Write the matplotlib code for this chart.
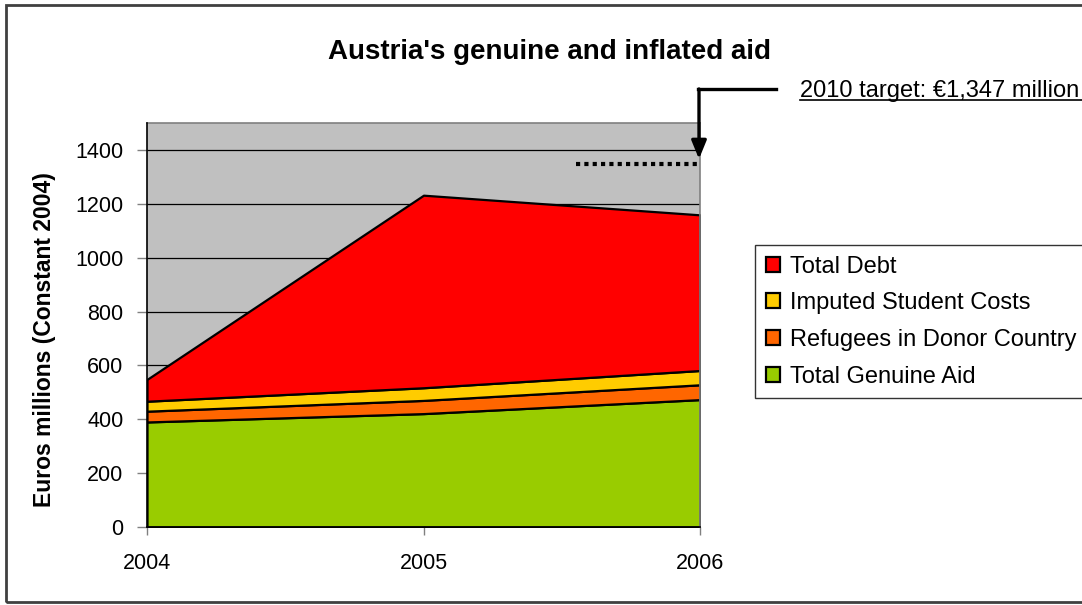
import numpy as np
import matplotlib.pyplot as plt
from matplotlib.lines import Line2D
from matplotlib.patches import Rectangle

plt.rcParams['font.family'] = ['Liberation Sans', 'DejaVu Sans']

# Data (Euros millions, constant 2004)
years = [2004, 2005, 2006]
genuine_aid = [390, 421, 473]
refugees = [40, 49, 55]
student_costs = [37, 47, 53]
total_debt = [81, 715, 578]
target_2010 = 1347

labels = ['Total Genuine Aid', 'Refugees in Donor Country',
          'Imputed Student Costs', 'Total Debt']
colors = ['#99CC00', '#FF6600', '#FFCC00', '#FF0000']

W, H = 1082, 605
fig = plt.figure(figsize=(W / 100, H / 100), dpi=100)
ax = fig.add_axes([147 / W, 1 - 527 / H, (700 - 147) / W, (527 - 123) / H])


def px(x, y):
    return x / W, 1 - y / H


# stacked areas
layers = [genuine_aid, refugees, student_costs, total_debt]
base = np.zeros(len(years))
handles = []
for vals, lab, col in zip(layers, labels, colors):
    top = base + np.array(vals)
    h = ax.fill_between(years, base, top, facecolor=col, edgecolor='black',
                        linewidth=1.6, label=lab, zorder=2)
    handles.append(h)
    base = top

ax.set_facecolor('#C0C0C0')
ax.set_xlim(2004, 2006)
ax.set_ylim(0, 1500)
ax.set_yticks(range(0, 1401, 200))
ax.set_xticks(years)
ax.set_xticklabels([str(y) for y in years])
ax.yaxis.grid(True, color='black', linewidth=0.9)
ax.set_axisbelow(True)

for s in ['top', 'right']:
    ax.spines[s].set_color('#808080')
    ax.spines[s].set_linewidth(1.2)
for s in ['left', 'bottom']:
    ax.spines[s].set_color('black')
    ax.spines[s].set_linewidth(1.2)
    ax.spines[s].set_zorder(3)

ax.tick_params(axis='y', direction='out', length=7, width=1, color='#808080',
               pad=10, labelsize=15.5)
ax.tick_params(axis='x', direction='out', length=6, width=1, color='#808080',
               pad=13, labelsize=15.5)

# y label
fig.text(*px(45, 340), 'Euros millions (Constant 2004)', rotation=90,
         ha='center', va='center', fontsize=16.5, fontweight='bold')

# 2010 target dotted line
ax.plot([2005.55, 2006], [target_2010, target_2010], color='black',
        linewidth=3, dashes=(1, 1), solid_capstyle='butt',
        dash_capstyle='butt', zorder=4, clip_on=False)

# title
fig.text(*px(550, 52), "Austria's genuine and inflated aid", ha='center',
         va='center', fontsize=20, fontweight='bold')

# annotation with elbow arrow
fig.add_artist(Line2D([px(776, 0)[0], px(698, 0)[0]],
                      [px(0, 89)[1], px(0, 89)[1]],
                      color='black', linewidth=2.4, solid_capstyle='projecting'))
ax.annotate('', xy=px(699, 159), xycoords='figure fraction',
            xytext=px(699, 89), textcoords='figure fraction',
            arrowprops=dict(arrowstyle='-|>,head_length=1.1,head_width=0.45',
                            color='black', lw=2.4, shrinkA=0, shrinkB=0),
            annotation_clip=False)
fig.text(*px(800, 97), '2010 target: \u20ac1,347 million', ha='left',
         va='baseline', fontsize=17)
fig.add_artist(Line2D([px(800, 0)[0], 1.0], [px(0, 100)[1], px(0, 100)[1]],
                      color='black', linewidth=1.2))

# legend
leg = fig.legend(handles[::-1], labels[::-1], loc='upper left',
                 bbox_to_anchor=px(755, 245), fontsize=17, frameon=True,
                 fancybox=False, edgecolor='black', handlelength=0.6,
                 handleheight=0.6, handletextpad=0.45, labelspacing=0.62,
                 borderpad=0.45, borderaxespad=0)
leg.get_frame().set_linewidth(1.0)

# outer border
fig.add_artist(Rectangle(px(6, 602), 1.2, (602 - 5) / H, transform=fig.transFigure,
                         facecolor='none', edgecolor='#404040', linewidth=2))

fig.savefig('out.png', dpi=100)
